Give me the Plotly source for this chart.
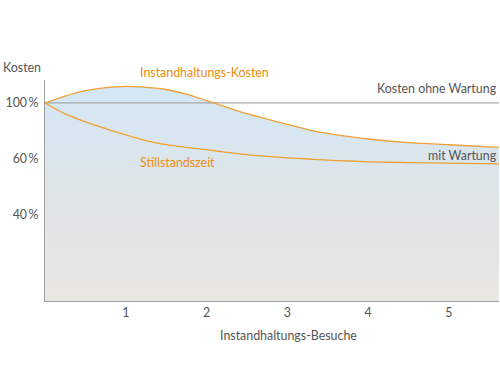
import plotly.graph_objects as go

# Data; y in cost-index units (100 = "Kosten ohne Wartung")
besuche = [0, 0.25, 0.5, 0.75, 1, 1.25, 1.5, 1.75, 2, 2.25, 2.5, 2.75, 3, 3.25, 3.5, 3.75, 4, 4.5, 5, 5.62]
instandhaltungs_kosten = [100, 103.5, 106.2, 107.7, 108.4, 107.9, 106.8, 104.5, 101.2, 97.8, 94.6, 91.8,
                          89.2, 86.6, 84.7, 83.1, 81.8, 80.0, 78.9, 77.6]
stillstandszeit = [100, 94.5, 90.5, 87.1, 83.9, 81.0, 79.0, 77.6, 76.4, 75.1, 73.9, 73.0,
                   72.3, 71.7, 71.1, 70.7, 70.3, 69.9, 69.6, 69.2]
ohne_wartung_x = [0, 5.62]
ohne_wartung_y = [100, 100]

x_ticks = [1, 2, 3, 4, 5]
x_tick_labels = ["1", "2", "3", "4", "5"]
y_ticks = [100, 71.7, 43.4]
y_tick_labels = ["100\u2009%", "60\u2009%", "40\u2009%"]

ORANGE = "#f0a033"
ORANGE_TXT = "#ee8c0c"
GREY_TXT = "#555555"
FONT = "Lato, Roboto, sans-serif"
FS = 12.4

fig = go.Figure()

fig.add_trace(go.Scatter(
    x=besuche, y=instandhaltungs_kosten, mode="none", fill="tozeroy",
    fillgradient=dict(type="vertical",
                      colorscale=[[0, "#e9e7e1"], [0.5, "#dfe5e8"], [1, "#d3e7f6"]],
                      start=0, stop=108.4),
    line=dict(shape="spline", smoothing=0.8), hoverinfo="skip", showlegend=False))

fig.add_trace(go.Scatter(
    x=ohne_wartung_x, y=ohne_wartung_y, mode="lines",
    line=dict(color="#a8a8a8", width=1.2), hoverinfo="skip", showlegend=False))

fig.add_trace(go.Scatter(
    x=besuche, y=stillstandszeit, mode="lines",
    line=dict(color=ORANGE, width=1.3, shape="spline", smoothing=0.8),
    hoverinfo="skip", showlegend=False))

fig.add_trace(go.Scatter(
    x=besuche, y=instandhaltungs_kosten, mode="lines",
    line=dict(color=ORANGE, width=1.3, shape="spline", smoothing=0.8),
    hoverinfo="skip", showlegend=False))

# pixel helpers -> paper coords (plot area: x 45..499, y 80..301)
def px(xp):
    return (xp - 45) / 454.0

def py(yp):
    return (301 - yp) / 221.0

def ann(text, xp, yp, color, xanchor="left"):
    fig.add_annotation(text=text, x=px(xp), y=py(yp), xref="paper", yref="paper",
                       showarrow=False, xanchor=xanchor, yanchor="middle",
                       font=dict(family=FONT, size=FS, color=color))

ann("Kosten", 1, 67, GREY_TXT)
ann("Instandhaltungs-Kosten", 138, 73, ORANGE_TXT)
ann("Kosten ohne Wartung", 499, 88, GREY_TXT, "right")
ann("mit Wartung", 499, 155, GREY_TXT, "right")
ann("Stillstandszeit", 138, 162, ORANGE_TXT)
ann("Instandhaltungs-Besuche", 288, 335, GREY_TXT, "center")

fig.update_layout(
    width=500, height=376,
    margin=dict(l=45, r=1, t=80, b=75),
    paper_bgcolor="white", plot_bgcolor="white",
    font=dict(family=FONT, size=FS, color=GREY_TXT),
    xaxis=dict(range=[0, 5.62], tickvals=x_ticks, ticktext=x_tick_labels,
               showgrid=False, zeroline=False, showline=True, linecolor="#a0a0a0",
               linewidth=1, ticks="", fixedrange=True, automargin=False),
    yaxis=dict(range=[0, 111.6], tickvals=y_ticks, ticktext=y_tick_labels,
               showgrid=False, zeroline=False, showline=True, linecolor="#a0a0a0",
               linewidth=1, ticks="", fixedrange=True, automargin=False,
               ticklabelstandoff=3),
)

fig.write_html("out.html", config={"displayModeBar": False},
               post_script="document.body.style.margin='0';")
